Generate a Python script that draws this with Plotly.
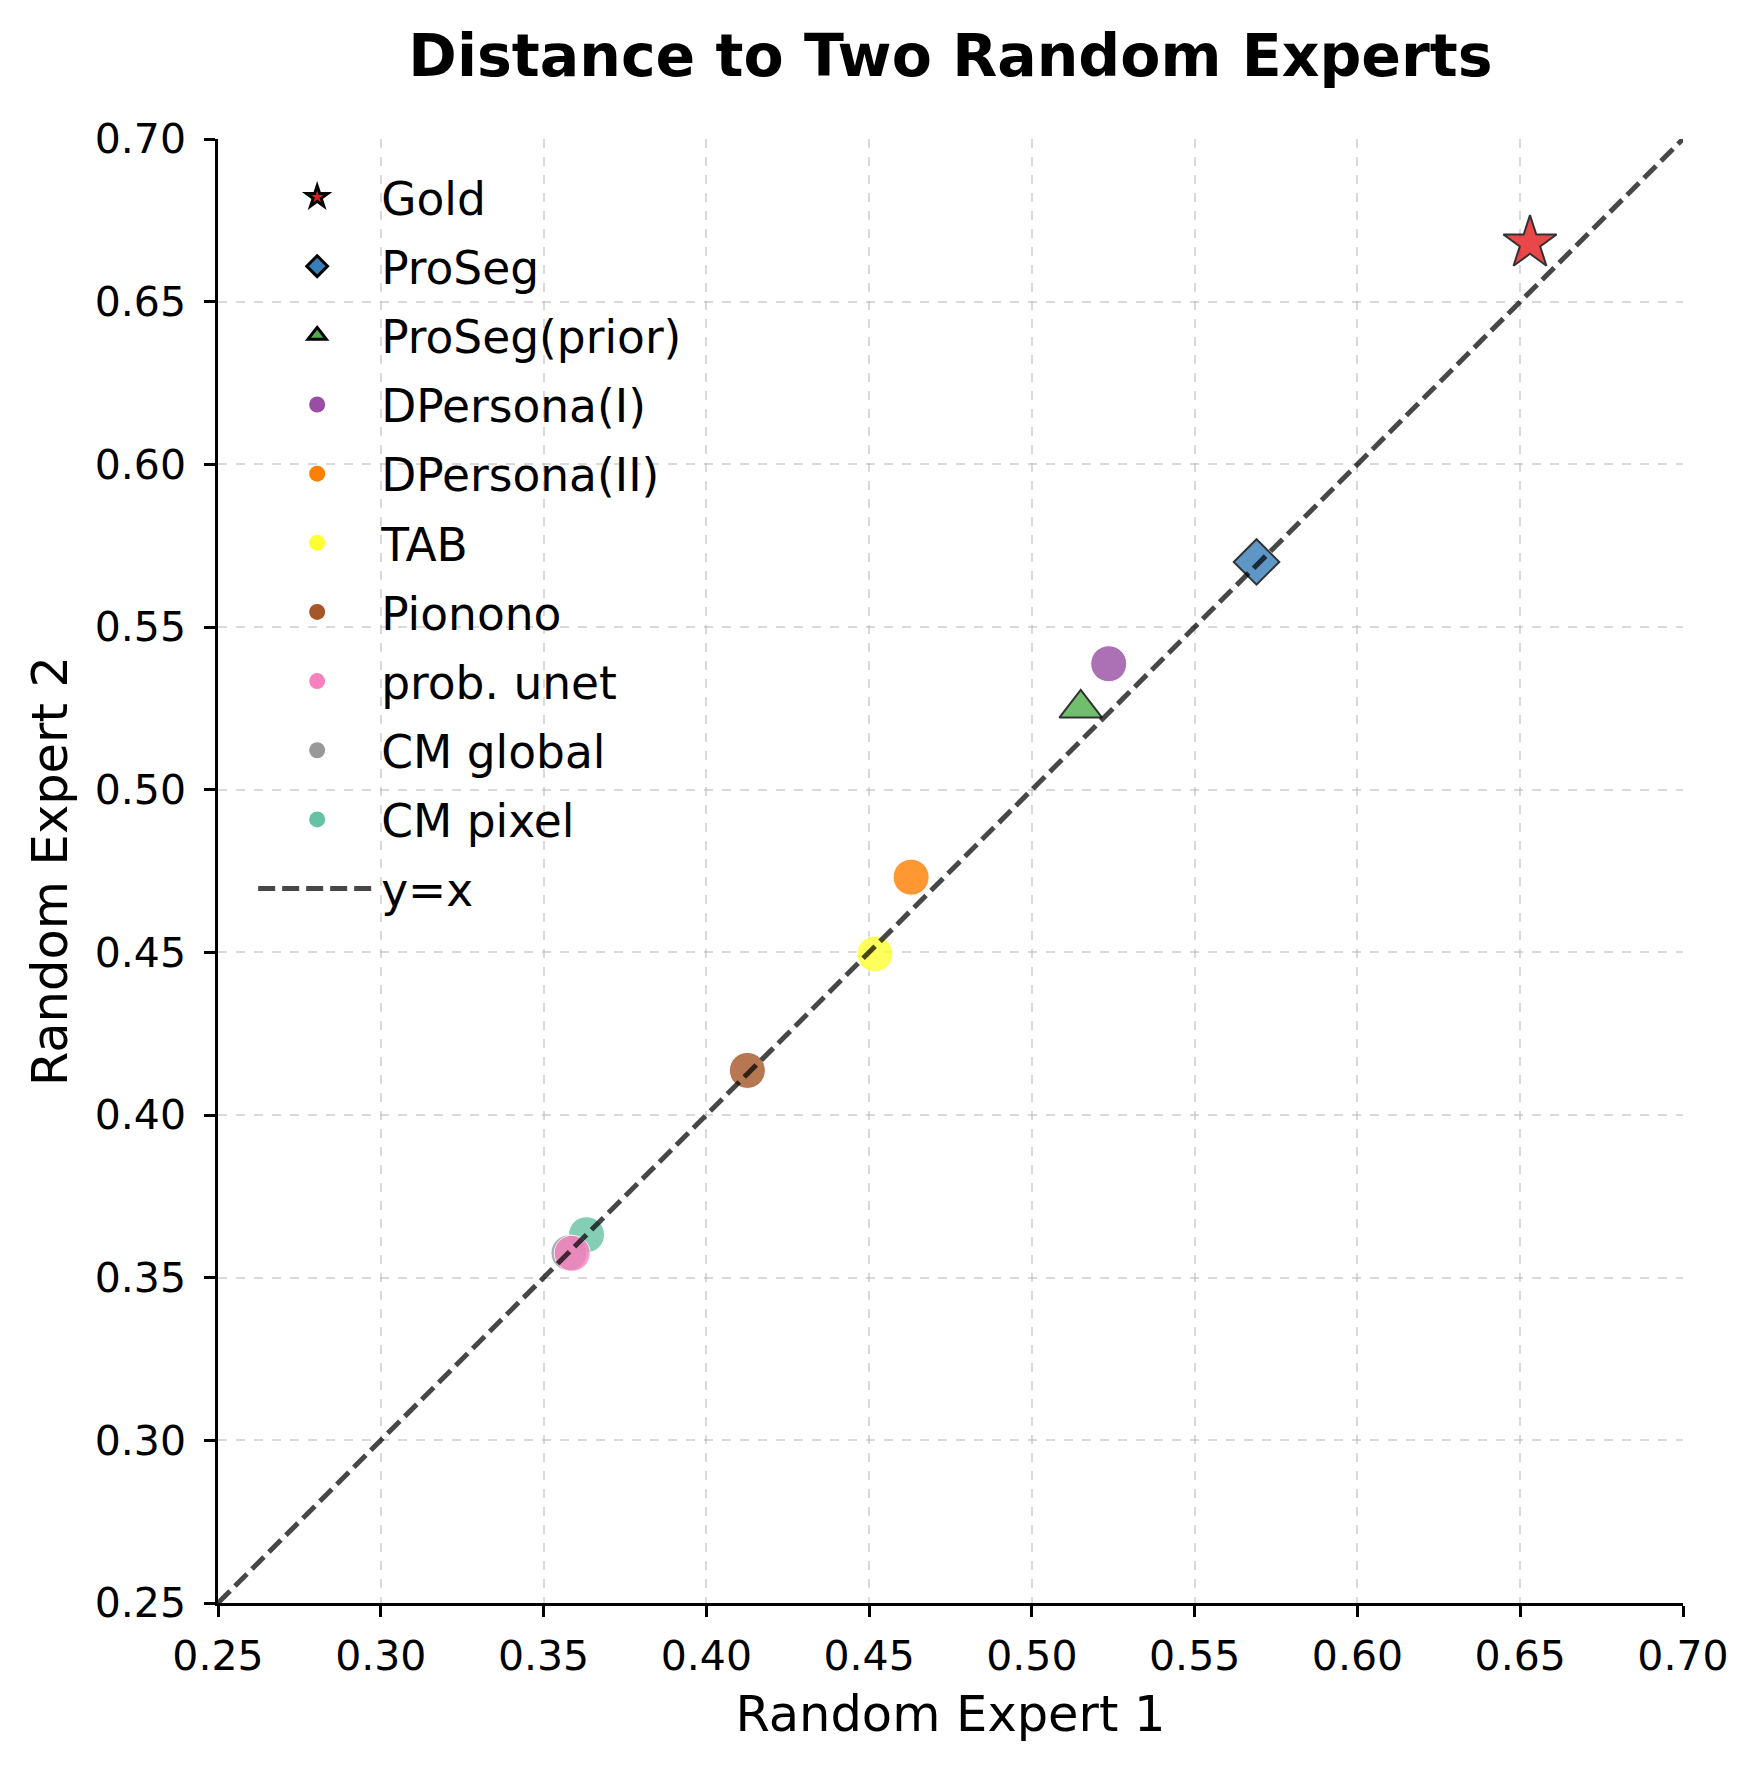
import plotly.graph_objects as go

methods = ["Gold", "ProSeg", "ProSeg(prior)", "DPersona(I)", "DPersona(II)", "TAB",
           "Pionono", "prob. unet", "CM global", "CM pixel"]
expert1 = [0.653, 0.569, 0.515, 0.5236, 0.4629, 0.4518, 0.4126, 0.3588, 0.3578, 0.3632]
expert2 = [0.668, 0.570, 0.525, 0.5387, 0.4731, 0.4495, 0.4137, 0.3575, 0.3576, 0.3632]
colors = ["#e41a1c", "#377eb8", "#4daf4a", "#984ea3", "#ff7f00", "#ffff33",
          "#a65628", "#f781bf", "#999999", "#66c2a5"]
symbols = ["star", "diamond", "triangle-up", "circle", "circle", "circle",
           "circle", "circle", "circle", "circle"]
diag = [0.25, 0.70]
ticks = [0.25, 0.30, 0.35, 0.40, 0.45, 0.50, 0.55, 0.60, 0.65, 0.70]

FONT = "DejaVu Sans"
size_map = {"star": 40, "diamond": 35, "triangle-up": 37, "circle": 36}

fig = go.Figure()

# data markers (drawn in reverse order so earlier methods sit on top)
for i in reversed(range(len(methods))):
    sym = symbols[i]
    edge = dict(color="black", width=2) if sym != "circle" else dict(color="white", width=1)
    fig.add_trace(go.Scatter(
        x=[expert1[i]], y=[expert2[i]], mode="markers", name=methods[i],
        marker=dict(symbol=sym, size=size_map[sym], color=colors[i], opacity=0.8, line=edge),
        showlegend=False, hoverinfo="skip"))

# legend entries (full colour)
for i in range(len(methods)):
    sym = symbols[i]
    edge = dict(color="black", width=3) if sym != "circle" else dict(color=colors[i], width=0)
    fig.add_trace(go.Scatter(
        x=[None], y=[None], mode="markers", name=methods[i],
        marker=dict(symbol=sym, size=size_map[sym], color=colors[i], line=edge),
        legendgroup=methods[i], legendrank=i + 1, showlegend=True))

fig.add_trace(go.Scatter(
    x=diag, y=diag, mode="lines", name="y=x",
    line=dict(color="rgba(0,0,0,0.72)", width=5, dash="17px,7px"),
    legendgroup="yx", legendrank=100, hoverinfo="skip"))

axis_common = dict(
    range=[0.25, 0.70], tickvals=ticks, ticktext=[f"{t:.2f}" for t in ticks],
    showline=True, linecolor="black", linewidth=2.5, mirror=False,
    ticks="outside", ticklen=11, tickwidth=2.5, tickcolor="black",
    showgrid=True, gridcolor="rgba(180,180,180,0.5)", gridwidth=1.5, griddash="dash",
    zeroline=False, tickfont=dict(family=FONT, size=41, color="black"),
)

fig.update_layout(
    width=1759, height=1770,
    margin=dict(l=210, r=84, t=131, b=175),
    paper_bgcolor="white", plot_bgcolor="white",
    font=dict(family=FONT, color="black"),
    title=dict(text="Distance to Two Random Experts", x=0.5, xref="paper",
               y=1 - 48 / 1770, yref="container", yanchor="middle",
               font=dict(family=FONT, size=58.5, color="black", weight="bold")),
    xaxis=dict(axis_common, title=dict(text="Random Expert 1", standoff=18,
                                       font=dict(family=FONT, size=49.5, color="black")),
               ticklabelstandoff=4),
    yaxis=dict(axis_common, title=dict(text="Random Expert 2", standoff=12,
                                       font=dict(family=FONT, size=49.5, color="black")),
               ticklabelstandoff=10),
    legend=dict(x=0.024, y=0.985, xanchor="left", yanchor="top",
                bgcolor="rgba(0,0,0,0)", borderwidth=0,
                font=dict(family=FONT, size=45.5, color="black"),
                itemwidth=118, tracegroupgap=7),
    showlegend=True,
)

fig.write_html("out.html")
